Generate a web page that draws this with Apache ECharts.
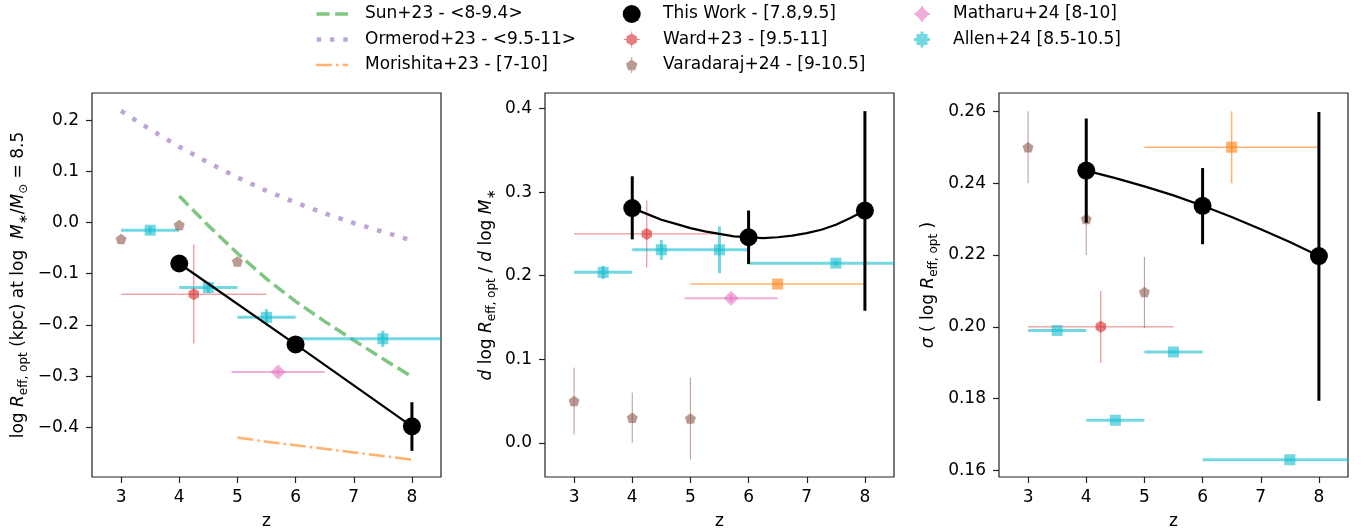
<!DOCTYPE html>
<html><head><meta charset="utf-8">
<script src="https://cdn.jsdelivr.net/npm/echarts@6/dist/echarts.min.js"></script>
<style>html,body{margin:0;padding:0;background:#fff}#c{width:1367px;height:529px}</style>
</head><body><div id="c"></div>
<script>
// ---------------- data ----------------
const xTicks = [3, 4, 5, 6, 7, 8];
const sizeTicks = [-0.4, -0.3, -0.2, -0.1, 0.0, 0.1, 0.2];
const slopeTicks = [0.0, 0.1, 0.2, 0.3, 0.4];
const scatterTicks = [0.16, 0.18, 0.20, 0.22, 0.24, 0.26];

// Literature relations (panel 1)
const ormerodZ = [3, 3.5, 4, 4.5, 5, 5.5, 6, 6.5, 7, 7.5, 8];
const ormerodSize = [0.218, 0.182, 0.148, 0.117, 0.088, 0.062, 0.039, 0.018, -0.001, -0.018, -0.035];
const sunZ = [4, 4.5, 5, 5.5, 6, 6.5, 7, 7.5, 8];
const sunSize = [0.052, -0.006, -0.060, -0.110, -0.154, -0.193, -0.230, -0.266, -0.301];
const morishitaZ = [5, 5.5, 6, 6.5, 7, 7.5, 8];
const morishitaSize = [-0.420, -0.428, -0.435, -0.442, -0.449, -0.456, -0.463];

// This Work
const twZ = [4, 6, 8];
const twSize = [-0.080, -0.238, -0.398];
const twSizeLo = [-0.092, -0.250, -0.446];
const twSizeHi = [-0.068, -0.226, -0.351];
const twSlope = [0.281, 0.246, 0.278];
const twSlopeLo = [0.2435, 0.214, 0.158];
const twSlopeHi = [0.319, 0.278, 0.397];
const twScat = [0.2435, 0.2337, 0.2197];
const twScatLo = [0.229, 0.223, 0.1794];
const twScatHi = [0.258, 0.2442, 0.2598];
const slopeFitZ = [4, 4.25, 4.5, 4.75, 5, 5.25, 5.5, 5.75, 6, 6.25, 6.5, 6.75, 7, 7.25, 7.5, 7.75, 8];
const twSlopeFit = [0.281, 0.274, 0.267, 0.262, 0.257, 0.253, 0.250, 0.247, 0.246, 0.245, 0.246, 0.248, 0.251, 0.255, 0.261, 0.269, 0.278];
const scatFitZ = [4, 4.5, 5, 5.5, 6, 6.5, 7, 7.5, 8];
const twScatFit = [0.2435, 0.2414, 0.2391, 0.2366, 0.2337, 0.2306, 0.2272, 0.2236, 0.2197];

// Ward+23
const wardZ = [4.25], wardZlo = [3], wardZhi = [5.5];
const wardSize = [-0.140], wardSizeLo = [-0.236], wardSizeHi = [-0.043];
const wardSlope = [0.250], wardSlopeLo = [0.210], wardSlopeHi = [0.290];
const wardScat = [0.200], wardScatLo = [0.190], wardScatHi = [0.210];

// Varadaraj+24
const varZ = [3, 4, 5];
const varSize = [-0.032, -0.005, -0.076];
const varSlope = [0.050, 0.030, 0.029];
const varSlopeLo = [0.010, 0.000, -0.020];
const varSlopeHi = [0.090, 0.060, 0.078];
const varScat = [0.250, 0.230, 0.2097];
const varScatLo = [0.240, 0.220, 0.1997];
const varScatHi = [0.260, 0.240, 0.2195];

// Allen+24
const allenZ = [3.5, 4.5, 5.5, 7.5], allenZlo = [3, 4, 5, 6], allenZhi = [4, 5, 6, 9];
const allenSize = [-0.015, -0.127, -0.185, -0.227];
const allenSizeErr = [0.007, 0.011, 0.016, 0.016];
const allenSlope = [0.204, 0.231, 0.231, 0.215];
const allenSlopeErr = [0.008, 0.012, 0.028, 0.003];
const allenScat = [0.199, 0.174, 0.193, 0.163];
const allenScatErr = [0, 0, 0, 0];

// Matharu+24
const matZ = [5.7], matZlo = [4.9], matZhi = [6.5];
const matSize = [-0.292], matSizeErr = [0.005];
const matSlope = [0.173], matSlopeErr = [0.004];

// Morishita+23 points
const morZ = [6.5], morZlo = [5], morZhi = [8];
const morSlope = [0.190], morSlopeLo = [0.190], morSlopeHi = [0.190];
const morScat = [0.250], morScatLo = [0.240], morScatHi = [0.260];

// ---------------- style ----------------
const F = 'DejaVu Sans';
const COL = {
  green: 'rgba(44,160,44,0.6)', purple: 'rgba(148,103,189,0.6)', orange: 'rgba(255,127,14,0.6)',
  red: 'rgba(214,39,40,0.6)', brown: 'rgba(140,86,75,0.6)', pink: 'rgba(227,119,194,0.6)',
  cyan: 'rgba(23,190,207,0.6)', black: '#000'
};
const N_SUN = 'Sun+23 - <8-9.4>', N_ORM = 'Ormerod+23 - <9.5-11>', N_MOR = 'Morishita+23 - [7-10]';
const N_TW = 'This Work - [7.8,9.5]', N_WARD = 'Ward+23 - [9.5-11]', N_VAR = 'Varadaraj+24 - [9-10.5]';
const N_MAT = 'Matharu+24 [8-10]', N_ALL = 'Allen+24 [8.5-10.5]';

const HEX = 'path://M0,-1L0.866,-0.5L0.866,0.5L0,1L-0.866,0.5L-0.866,-0.5Z';
const PENT = 'path://M0,-1L0.951,-0.309L0.588,0.809L-0.588,0.809L-0.951,-0.309Z';

function zip2(a, b) { return a.map((v, i) => [v, b[i]]); }
function rows(z, y, zlo, zhi, ylo, yhi) {
  return z.map((v, i) => [v, y[i], zlo ? zlo[i] : v, zhi ? zhi[i] : v, ylo ? ylo[i] : y[i], yhi ? yhi[i] : y[i]]);
}
function symErr(y, e) { return [y.map((v, i) => v - e[i]), y.map((v, i) => v + e[i])]; }

function lineS(name, g, xs, ys, color, width, dash, z) {
  return {type: 'line', name, xAxisIndex: g, yAxisIndex: g, data: zip2(xs, ys), showSymbol: false,
    symbol: 'none', smooth: false, z, silent: true, itemStyle: {color, opacity: 1},
    lineStyle: {color, width, type: dash || 'solid', cap: 'butt', join: 'round', opacity: 1}, animation: false};
}
function scatS(name, g, xs, ys, symbol, size, color, z) {
  return {type: 'scatter', name, xAxisIndex: g, yAxisIndex: g, data: zip2(xs, ys), symbol, symbolSize: size,
    symbolKeepAspect: true, itemStyle: {color, borderWidth: 0, opacity: 1}, z, silent: true, animation: false};
}
function errRender(lw) {
  return function (params, api) {
    const cs = params.coordSys;
    const x = api.value(0), y = api.value(1), xlo = api.value(2), xhi = api.value(3), ylo = api.value(4), yhi = api.value(5);
    const style = {stroke: api.visual('color'), lineWidth: lw, fill: null};
    const cx = v => Math.max(cs.x, Math.min(cs.x + cs.width, v));
    const kids = [];
    if (xhi > xlo) {
      const a = api.coord([xlo, y]), b = api.coord([xhi, y]);
      kids.push({type: 'line', shape: {x1: cx(a[0]), y1: a[1], x2: cx(b[0]), y2: b[1]}, style});
    }
    if (yhi > ylo) {
      const a = api.coord([x, ylo]), b = api.coord([x, yhi]);
      kids.push({type: 'line', shape: {x1: a[0], y1: a[1], x2: b[0], y2: b[1]}, style});
    }
    return {type: 'group', children: kids};
  };
}
function errS(name, g, data, color, lw, z) {
  return {type: 'custom', name, xAxisIndex: g, yAxisIndex: g, data, renderItem: errRender(lw),
    itemStyle: {color, opacity: 1}, z, silent: true, animation: false};
}

// ---------------- layout ----------------
const grids = [
  {left: 92, top: 93, width: 349, height: 384},
  {left: 545, top: 93, width: 349, height: 384},
  {left: 999, top: 93, width: 349, height: 384}
].map(g => Object.assign({show: true, borderColor: '#222', borderWidth: 1.2, backgroundColor: 'transparent', containLabel: false, outerBoundsMode: 'none'}, g));

const tickStyle = {show: true, inside: false, length: 6, lineStyle: {color: '#222', width: 1.2}};
const labStyle = {color: '#000', fontSize: 17, fontFamily: F};
function xAx(g) {
  return {type: 'value', gridIndex: g, min: 2.5, max: 8.5, name: 'z', nameLocation: 'middle', nameGap: 36,
    nameTextStyle: {color: '#000', fontSize: 17, fontFamily: F},
    axisLine: {show: false, onZero: false}, splitLine: {show: false},
    axisTick: Object.assign({customValues: xTicks}, tickStyle),
    axisLabel: Object.assign({customValues: xTicks, margin: 12, formatter: v => String(v)}, labStyle)};
}
const rich = {
  n: {fontSize: 17, fontFamily: F, color: '#000', lineHeight: 22},
  i: {fontSize: 17, fontFamily: F, color: '#000', fontStyle: 'italic', lineHeight: 22},
  s: {fontSize: 12, fontFamily: F, color: '#000', lineHeight: 8, verticalAlign: 'bottom'}
};
function yAx(g, min, max, ticks, dec, name, gap) {
  return {type: 'value', gridIndex: g, min, max, name, nameLocation: 'middle', nameGap: gap, nameRotate: 90,
    nameTextStyle: {rich, fontSize: 17, fontFamily: F, color: '#000'},
    axisLine: {show: false, onZero: false}, splitLine: {show: false},
    axisTick: Object.assign({customValues: ticks}, tickStyle),
    axisLabel: Object.assign({customValues: ticks, margin: 13,
      formatter: v => Number(v).toFixed(dec).replace('-', '\u2212')}, labStyle)};
}

// ---------------- legend icons ----------------
const BOX = 'M0,0M44,20';
function rect(x, y, w, h) { return `M${x},${y}h${w}v${h}h${-w}z`; }
function poly(pts) { return 'M' + pts.map(p => p[0].toFixed(2) + ',' + p[1].toFixed(2)).join('L') + 'z'; }
function hexagon(cx, cy, r) { return poly([[cx, cy - r], [cx + 0.866 * r, cy - 0.5 * r], [cx + 0.866 * r, cy + 0.5 * r], [cx, cy + r], [cx - 0.866 * r, cy + 0.5 * r], [cx - 0.866 * r, cy - 0.5 * r]]); }
function pentagon(cx, cy, r) { return poly([[cx, cy - r], [cx + 0.951 * r, cy - 0.309 * r], [cx + 0.588 * r, cy + 0.809 * r], [cx - 0.588 * r, cy + 0.809 * r], [cx - 0.951 * r, cy - 0.309 * r]]); }
function diamond(cx, cy, r) { return poly([[cx, cy - r], [cx + r, cy], [cx, cy + r], [cx - r, cy]]); }
const ICON = {
  sun: 'path://' + BOX + rect(0.5, 8.3, 13, 3.4) + rect(19.1, 8.3, 12.9, 3.4),
  orm: 'path://' + BOX + rect(0.7, 7.8, 4.4, 4.4) + rect(14, 7.8, 4.4, 4.4) + rect(27.3, 7.8, 4.4, 4.4),
  mor: 'path://' + BOX + rect(0, 8.75, 16, 2.5) + rect(20, 8.75, 2.5, 2.5) + rect(26.5, 8.75, 5.5, 2.5),
  tw: 'path://' + BOX + 'M8.7,10a9,9 0 1,1 18,0a9,9 0 1,1 -18,0z',
  ward: 'path://' + BOX + hexagon(17.7, 10, 6) + rect(9.7, 9.5, 16, 1) + rect(17.2, 2, 1, 16),
  vari: 'path://' + BOX + pentagon(17.7, 10.4, 6) + rect(17.2, 2, 1, 16),
  mat: 'path://' + BOX + diamond(18, 10, 7.5) + rect(10, 9, 16, 2) + rect(17, 2, 2, 16),
  all: 'path://' + BOX + rect(12.5, 4.5, 11, 11) + rect(10, 8.5, 16, 3) + rect(16.5, 2, 3, 16)
};
const legBase = {orient: 'vertical', top: 4, itemWidth: 44, itemHeight: 20, itemGap: 5.5, padding: 0,
  selectedMode: false, textStyle: {fontSize: 17, fontFamily: F, color: '#000'},
  itemStyle: {borderWidth: 0, opacity: 1}};

// ---------------- series ----------------
const series = [];
// Panel 1
series.push(lineS(N_ORM, 0, ormerodZ, ormerodSize, COL.purple, 4.5, [4.5, 9], 2));
series.push(lineS(N_SUN, 0, sunZ, sunSize, COL.green, 3.5, [13, 5.6], 2));
series.push(lineS(N_MOR, 0, morishitaZ, morishitaSize, COL.orange, 2.5, [16, 4, 2.5, 4], 2));
series.push(errS(N_WARD, 0, rows(wardZ, wardSize, wardZlo, wardZhi, wardSizeLo, wardSizeHi), COL.red, 1, 3));
series.push(scatS(N_WARD, 0, wardZ, wardSize, HEX, 12, COL.red, 4));
series.push(scatS(N_VAR, 0, varZ, varSize, PENT, 11, COL.brown, 4));
(function () { const e = symErr(allenSize, allenSizeErr);
  series.push(errS(N_ALL, 0, rows(allenZ, allenSize, allenZlo, allenZhi, e[0], e[1]), COL.cyan, 3, 3)); })();
series.push(scatS(N_ALL, 0, allenZ, allenSize, 'rect', 11, COL.cyan, 4));
(function () { const e = symErr(matSize, matSizeErr);
  series.push(errS(N_MAT, 0, rows(matZ, matSize, matZlo, matZhi, e[0], e[1]), COL.pink, 2, 3)); })();
series.push(scatS(N_MAT, 0, matZ, matSize, 'diamond', 15, COL.pink, 4));
series.push(lineS(N_TW, 0, twZ, twSize, COL.black, 2.2, 'solid', 6));
series.push(errS(N_TW, 0, rows(twZ, twSize, null, null, twSizeLo, twSizeHi), COL.black, 3, 6));
series.push(scatS(N_TW, 0, twZ, twSize, 'circle', 18, COL.black, 7));

// Panel 2
series.push(errS(N_WARD, 1, rows(wardZ, wardSlope, wardZlo, wardZhi, wardSlopeLo, wardSlopeHi), COL.red, 1, 3));
series.push(scatS(N_WARD, 1, wardZ, wardSlope, HEX, 12, COL.red, 4));
series.push(errS(N_VAR, 1, rows(varZ, varSlope, null, null, varSlopeLo, varSlopeHi), COL.brown, 1, 3));
series.push(scatS(N_VAR, 1, varZ, varSlope, PENT, 11, COL.brown, 4));
(function () { const e = symErr(allenSlope, allenSlopeErr);
  series.push(errS(N_ALL, 1, rows(allenZ, allenSlope, allenZlo, allenZhi, e[0], e[1]), COL.cyan, 3, 3)); })();
series.push(scatS(N_ALL, 1, allenZ, allenSlope, 'rect', 11, COL.cyan, 4));
series.push(errS(N_MOR, 1, rows(morZ, morSlope, morZlo, morZhi, morSlopeLo, morSlopeHi), COL.orange, 1.5, 3));
series.push(scatS(N_MOR, 1, morZ, morSlope, 'rect', 11, COL.orange, 4));
(function () { const e = symErr(matSlope, matSlopeErr);
  series.push(errS(N_MAT, 1, rows(matZ, matSlope, matZlo, matZhi, e[0], e[1]), COL.pink, 2, 3)); })();
series.push(scatS(N_MAT, 1, matZ, matSlope, 'diamond', 15, COL.pink, 4));
series.push(lineS(N_TW, 1, slopeFitZ, twSlopeFit, COL.black, 2.2, 'solid', 6));
series.push(errS(N_TW, 1, rows(twZ, twSlope, null, null, twSlopeLo, twSlopeHi), COL.black, 3, 6));
series.push(scatS(N_TW, 1, twZ, twSlope, 'circle', 18, COL.black, 7));

// Panel 3
series.push(errS(N_VAR, 2, rows(varZ, varScat, null, null, varScatLo, varScatHi), COL.brown, 1, 3));
series.push(scatS(N_VAR, 2, varZ, varScat, PENT, 11, COL.brown, 4));
series.push(errS(N_WARD, 2, rows(wardZ, wardScat, wardZlo, wardZhi, wardScatLo, wardScatHi), COL.red, 1, 3));
series.push(scatS(N_WARD, 2, wardZ, wardScat, HEX, 12, COL.red, 4));
(function () { const e = symErr(allenScat, allenScatErr);
  series.push(errS(N_ALL, 2, rows(allenZ, allenScat, allenZlo, allenZhi, e[0], e[1]), COL.cyan, 3, 3)); })();
series.push(scatS(N_ALL, 2, allenZ, allenScat, 'rect', 11, COL.cyan, 4));
series.push(errS(N_MOR, 2, rows(morZ, morScat, morZlo, morZhi, morScatLo, morScatHi), COL.orange, 1.5, 3));
series.push(scatS(N_MOR, 2, morZ, morScat, 'rect', 11, COL.orange, 4));
series.push(lineS(N_TW, 2, scatFitZ, twScatFit, COL.black, 2.2, 'solid', 6));
series.push(errS(N_TW, 2, rows(twZ, twScat, null, null, twScatLo, twScatHi), COL.black, 3, 6));
series.push(scatS(N_TW, 2, twZ, twScat, 'circle', 18, COL.black, 7));

const option = {
  animation: false,
  backgroundColor: '#fff',
  grid: grids,
  xAxis: [xAx(0), xAx(1), xAx(2)],
  yAxis: [
    yAx(0, -0.497, 0.253, sizeTicks, 1,
      '{n|log }{i|R}{s|eff, opt}{n| (kpc) at log  }{i|M}{s|\u2217}{n|/}{i|M}{s|\u2299}{n| = 8.5}', 62),
    yAx(1, -0.041, 0.4187, slopeTicks, 1,
      '{i|d}{n| log }{i|R}{s|eff, opt}{n| / }{i|d}{n| log }{i|M}{s|\u2217}', 47),
    yAx(2, 0.1582, 0.2651, scatterTicks, 2,
      '{i|\u03c3}{n| ( log }{i|R}{s|eff, opt}{n| )}', 59)
  ],
  legend: [
    Object.assign({}, legBase, {left: 316, data: [{name: N_SUN, icon: ICON.sun}, {name: N_ORM, icon: ICON.orm}, {name: N_MOR, icon: ICON.mor}]}),
    Object.assign({}, legBase, {left: 614, data: [{name: N_TW, icon: ICON.tw}, {name: N_WARD, icon: ICON.ward}, {name: N_VAR, icon: ICON.vari}]}),
    Object.assign({}, legBase, {left: 904, data: [{name: N_MAT, icon: ICON.mat}, {name: N_ALL, icon: ICON.all}]})
  ],
  series
};
const chart = echarts.init(document.getElementById('c'), null, {renderer: 'canvas'});
chart.setOption(option);
</script></body></html>
